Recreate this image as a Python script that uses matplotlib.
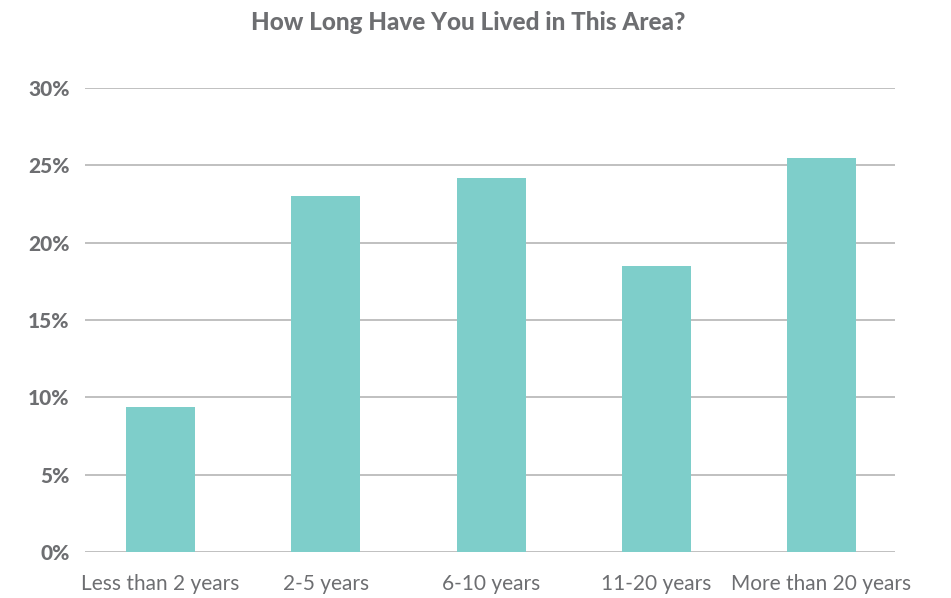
import numpy as np
import matplotlib.pyplot as plt

categories = ['Less than 2 years', '2-5 years', '6-10 years', '11-20 years', 'More than 20 years']
values = [9.4, 23.0, 24.2, 18.5, 25.5]
yticks = [0, 5, 10, 15, 20, 25, 30]

text_color = '#6d6e71'
bar_color = '#7ececa'
grid_color = '#b5b5b5'

plt.rcParams['font.family'] = ['Lato', 'DejaVu Sans']

fig = plt.figure(figsize=(9.51, 5.98), dpi=100)
ax = fig.add_axes([0.0894, 0.0769, 0.8517, 0.7759])

x = np.arange(len(categories))
ax.bar(x, values, width=0.418, color=bar_color, zorder=3)

ax.set_ylim(0, 30)
ax.set_xlim(-0.458, 4.445)
ax.set_yticks(yticks)
ax.set_yticklabels([f'{t}%' for t in yticks], fontsize=15, fontweight='black', color=text_color)
ax.set_xticks(x)
ax.set_xticklabels(categories, fontsize=15, fontweight='normal', color=text_color)
ax.tick_params(axis='both', length=0)
ax.tick_params(axis='y', pad=11)
ax.tick_params(axis='x', pad=16)

ax.yaxis.grid(True, color=grid_color, linewidth=1.2, zorder=0)
for s in ax.spines.values():
    s.set_visible(False)

fig.text(0.492, 0.963, 'How Long Have You Lived in This Area?', ha='center', va='center',
         fontsize=17.5, fontweight='black', color=text_color)

fig.savefig('out.png', dpi=100)
